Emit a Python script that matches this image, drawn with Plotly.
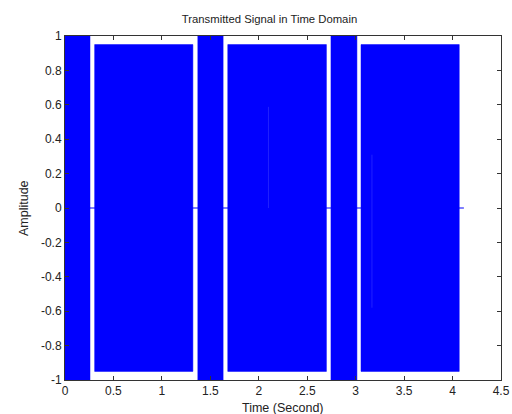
import plotly.graph_objects as go

# Burst segments of the transmitted signal (seconds) and their amplitude envelopes
seg_start = [0.0, 0.306, 1.371, 1.680, 2.745, 3.055]
seg_end = [0.258, 1.320, 1.632, 2.698, 3.013, 4.069]
seg_amp = [1.0, 0.95, 1.0, 0.95, 1.0, 0.95]
signal_end = 4.117

# faint visible streaks inside the dense bursts
streak_x = [2.10, 3.168]
streak_lo = [0.0, -0.58]
streak_hi = [0.588, 0.31]

x_ticks = [0, 0.5, 1, 1.5, 2, 2.5, 3, 3.5, 4, 4.5]
y_ticks = [-1, -0.8, -0.6, -0.4, -0.2, 0, 0.2, 0.4, 0.6, 0.8, 1]
y_ticktext = ["-1", "-0.8", "-0.6", "-0.4", "-0.2", "0", "0.2", "0.4", "0.6", "0.8", "1"]

BLUE = "#0000FF"
W, H = 512, 414
L, R, T, B = 65, 10.5, 36, 34

fig = go.Figure()

# baseline of the signal (zero between bursts)
fig.add_trace(go.Scatter(x=[0, signal_end], y=[0, 0], mode="lines",
                         line=dict(color=BLUE, width=1.2), hoverinfo="skip"))

for s, e, a in zip(seg_start, seg_end, seg_amp):
    fig.add_trace(go.Scatter(x=[s, e, e, s, s], y=[-a, -a, a, a, -a],
                             mode="lines", fill="toself", fillcolor=BLUE,
                             line=dict(color=BLUE, width=0.5), hoverinfo="skip"))

for sx, lo, hi in zip(streak_x, streak_lo, streak_hi):
    fig.add_trace(go.Scatter(x=[sx, sx], y=[lo, hi], mode="lines",
                             line=dict(color="#2020ff", width=1), hoverinfo="skip"))

TXT = "#222222"
font = dict(family="Liberation Sans, Arial, sans-serif", size=12, color=TXT)
fig.update_layout(
    width=W, height=H,
    margin=dict(l=L, r=R, t=T, b=B, autoexpand=False),
    paper_bgcolor="white", plot_bgcolor="white",
    showlegend=False,
    font=font,
    title=dict(text="Transmitted Signal in Time Domain", xref="container",
               x=269.5 / W, xanchor="center", yref="container",
               y=1 - 19 / H, yanchor="middle",
               font=dict(size=11.3, color=TXT)),
    xaxis=dict(range=[0, 4.5], tickvals=x_ticks, ticktext=[str(v) for v in x_ticks],
               showgrid=False, zeroline=False, showline=True, linecolor="#333333",
               linewidth=1, mirror="ticks", ticks="inside", ticklen=4,
               tickcolor="#333333", automargin=False, tickfont=dict(size=12)),
    yaxis=dict(range=[-1, 1], tickvals=y_ticks, ticktext=y_ticktext,
               showgrid=False, zeroline=False, showline=True, linecolor="#333333",
               linewidth=1, mirror="ticks", ticks="inside", ticklen=4,
               tickcolor="#333333", automargin=False, tickfont=dict(size=12)),
    annotations=[
        dict(text="Time (Second)", xref="paper", x=0.5, yref="paper",
             y=-(408 - (H - B)) / (H - T - B), xanchor="center", yanchor="middle",
             showarrow=False, font=dict(size=12.5, color=TXT)),
        dict(text="Amplitude", xref="paper", x=-(L - 24) / (W - L - R), yref="paper",
             y=0.5, xanchor="center", yanchor="middle", textangle=-90,
             showarrow=False, font=dict(size=12.5, color=TXT)),
    ],
)

fig.write_html(
    "out.html",
    config={"displayModeBar": False, "staticPlot": True},
    post_script="document.body.style.margin='0';document.body.style.overflow='hidden';",
)
